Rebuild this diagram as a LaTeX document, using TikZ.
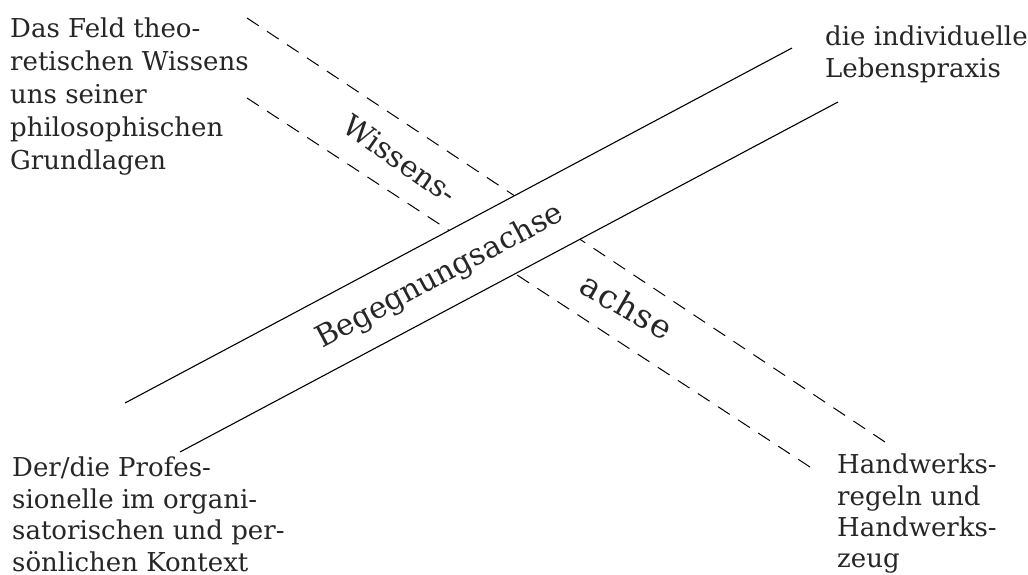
\documentclass[tikz,border=0pt]{standalone}
\usepackage{fontspec}
\setmainfont{DejaVu Serif}
\definecolor{txt}{HTML}{262626}
\begin{document}
\begin{tikzpicture}[x=1pt,y=-1pt,
  axis/.style={line width=1.1pt, black},
  dashaxis/.style={line width=1pt, black, dash pattern=on 14pt off 10pt},
  lbl/.style={inner sep=0pt, align=left, anchor=north west, text=txt, font=\fontsize{26}{32}\selectfont},
  rotlbl/.style={inner sep=0pt, text=txt}]
\useasboundingbox (0,0) rectangle (1028,575);
% axes end points
\coordinate (s1a) at (125,403);
\coordinate (s1b) at (792,48);
\coordinate (s2a) at (180,452);
\coordinate (s2b) at (838,102);
\coordinate (d1a) at (247,18);
\coordinate (d1b) at (885,442);
\coordinate (d2a) at (247,98);
\coordinate (d2b) at (810,467);
% where the dashed axis meets the band of the solid axis
\coordinate (x11) at (intersection of d1a--d1b and s1a--s1b);
\coordinate (x12) at (intersection of d1a--d1b and s2a--s2b);
\coordinate (x21) at (intersection of d2a--d2b and s1a--s1b);
\coordinate (x22) at (intersection of d2a--d2b and s2a--s2b);
\draw[axis] (s1a) -- (s1b);
\draw[axis] (s2a) -- (s2b);
\draw[dashaxis] (d1a) -- (x11);
\draw[dashaxis] (d1b) -- (x12);
\draw[dashaxis] (d2a) -- (x21);
\draw[dashaxis] (d2b) -- (x22);
% corner texts
\node[lbl, font=\fontsize{26}{32.8}\selectfont] (tl) at (10,18) {Das Feld theo-\\retischen Wissens\\uns seiner\\philosophischen\\Grundlagen};
\node[lbl] (tr) at (825,26) {die individuelle\\Lebenspraxis};
\node[lbl, font=\fontsize{26}{31.5}\selectfont] (bl) at (12,457) {Der/die Profes-\\sionelle im organi-\\satorischen und per-\\sönlichen Kontext};
\node[lbl, font=\fontsize{26}{31.2}\selectfont] (br) at (837,454) {Handwerks-\\regeln und\\Handwerks-\\zeug};
% axis labels
\node[rotlbl, rotate=28, font=\fontsize{30}{36}\selectfont] (beg) at (440,277) {Begegnungsachse};
\node[rotlbl, rotate=-35, font=\fontsize{29.5}{34}\selectfont] (wis) at (400,159) {Wissens-};
\node[rotlbl, rotate=-30, font=\fontsize{33}{38}\selectfont] (ach) at (627,306) {a\kern1pt c\kern1pt h\kern1pt s\kern1pt e};
\end{tikzpicture}
\end{document}
